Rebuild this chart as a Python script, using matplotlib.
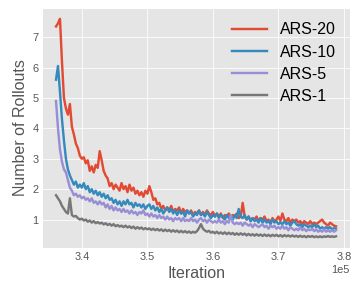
import numpy as np
import matplotlib
matplotlib.use("Agg")
import matplotlib.pyplot as plt

plt.style.use("ggplot")
plt.rcParams["font.family"] = ["Liberation Sans", "DejaVu Sans"]

# iteration grid (first to last logged iteration)
iters = np.linspace(336060, 378790, 142)

ars20 = [7.35, 7.45, 7.6, 6.2, 5.0, 4.65, 4.45, 4.8, 4.05, 3.8,
         3.5, 3.35, 3.1, 3.0, 3.05, 2.85, 2.95, 2.6, 2.75, 2.55,
         2.8, 2.7, 3.25, 2.95, 2.6, 2.45, 2.35, 2.1, 2.2, 2.0,
         2.15, 2.05, 1.95, 2.2, 2.0, 2.1, 1.9, 2.15, 1.95, 2.05,
         1.85, 1.95, 1.8, 1.9, 1.75, 1.95, 1.85, 2.1, 1.9, 1.65,
         1.7, 1.5, 1.55, 1.35, 1.45, 1.3, 1.4, 1.3, 1.45, 1.25,
         1.35, 1.3, 1.4, 1.2, 1.35, 1.25, 1.3, 1.2, 1.3, 1.15,
         1.25, 1.2, 1.3, 1.15, 1.25, 1.15, 1.3, 1.2, 1.15, 1.25,
         1.1, 1.2, 1.1, 1.2, 1.05, 1.15, 1.1, 1.2, 1.05, 1.15,
         1.1, 1.2, 1.05, 1.1, 1.55, 1.1, 1.0, 1.1, 0.95, 1.05,
         1.0, 1.1, 0.95, 1.05, 1.0, 1.1, 0.95, 1.0, 0.9, 1.05,
         0.95, 1.0, 1.1, 0.95, 1.2, 1.0, 0.95, 1.05, 0.9, 1.0,
         0.95, 1.0, 0.9, 0.95, 0.85, 0.95, 0.9, 0.85, 0.95, 0.85,
         0.9, 0.85, 0.9, 0.95, 1.0, 0.9, 0.85, 0.8, 0.9, 0.85,
         0.8, 0.78]

ars10 = [5.6, 6.05, 5.2, 4.3, 3.6, 3.0, 2.65, 2.45, 2.3, 2.15,
         2.25, 2.05, 2.15, 2.05, 2.2, 2.0, 2.1, 1.9, 2.0, 1.85,
         1.95, 1.8, 1.9, 1.75, 1.85, 1.7, 1.8, 1.65, 1.7, 1.55,
         1.65, 1.5, 1.6, 1.45, 1.6, 1.5, 1.65, 1.5, 1.55, 1.4,
         1.55, 1.45, 1.5, 1.4, 1.5, 1.35, 1.45, 1.5, 1.35, 1.45,
         1.3, 1.4, 1.25, 1.35, 1.2, 1.3, 1.4, 1.25, 1.35, 1.2,
         1.3, 1.15, 1.3, 1.2, 1.25, 1.1, 1.3, 1.2, 1.25, 1.1,
         1.2, 1.15, 1.3, 1.15, 1.2, 1.1, 1.25, 1.15, 1.05, 1.15,
         1.1, 1.2, 1.05, 1.15, 1.1, 1.0, 1.15, 1.05, 1.1, 1.0,
         1.15, 1.05, 1.35, 1.1, 1.05, 1.15, 1.0, 1.1, 0.95, 1.05,
         0.95, 1.0, 0.9, 1.05, 0.9, 1.0, 0.9, 0.95, 0.85, 1.0,
         0.9, 0.95, 0.85, 0.9, 0.85, 0.95, 0.85, 0.9, 0.8, 0.9,
         0.95, 0.85, 0.8, 0.85, 0.75, 0.85, 0.8, 0.75, 0.8, 0.75,
         0.85, 0.75, 0.8, 0.7, 0.75, 0.7, 0.75, 0.7, 0.75, 0.68,
         0.72, 0.7]

ars5 = [4.9, 4.0, 3.3, 2.9, 2.65, 2.55, 2.3, 2.05, 1.95, 1.8,
        1.85, 1.75, 1.8, 1.7, 1.75, 1.65, 1.7, 1.6, 1.7, 1.55,
        1.6, 1.5, 1.6, 1.5, 1.55, 1.4, 1.5, 1.35, 1.45, 1.3,
        1.4, 1.3, 1.35, 1.25, 1.35, 1.25, 1.3, 1.2, 1.3, 1.2,
        1.25, 1.15, 1.25, 1.2, 1.3, 1.15, 1.2, 1.1, 1.2, 1.1,
        1.15, 1.05, 1.15, 1.05, 1.1, 1.0, 1.1, 1.0, 1.05, 0.95,
        1.05, 1.0, 1.05, 0.95, 1.05, 0.95, 1.0, 0.95, 1.05, 0.95,
        1.0, 0.9, 1.0, 1.05, 0.95, 1.0, 0.9, 1.0, 0.95, 0.9,
        0.95, 0.9, 1.0, 0.9, 0.95, 0.85, 0.95, 0.9, 1.15, 0.9,
        0.85, 0.9, 0.85, 0.9, 0.8, 0.9, 0.85, 0.8, 0.85, 0.75,
        0.85, 0.8, 0.75, 0.8, 0.85, 0.75, 0.8, 0.7, 0.8, 0.75,
        0.8, 0.7, 0.75, 0.7, 0.8, 0.7, 0.75, 0.65, 0.75, 0.7,
        0.65, 0.7, 0.65, 0.75, 0.65, 0.7, 0.62, 0.68, 0.65, 0.7,
        0.62, 0.68, 0.6, 0.65, 0.6, 0.68, 0.6, 0.65, 0.6, 0.65,
        0.6, 0.65]

ars1 = [1.8, 1.7, 1.6, 1.45, 1.35, 1.25, 1.2, 1.7, 1.15, 1.1,
        1.12, 1.05, 1.0, 1.03, 0.97, 1.0, 0.93, 0.97, 0.9, 0.95,
        0.88, 0.92, 0.87, 0.9, 0.84, 0.88, 0.82, 0.86, 0.8, 0.85,
        0.78, 0.82, 0.77, 0.8, 0.75, 0.8, 0.74, 0.78, 0.72, 0.77,
        0.7, 0.75, 0.7, 0.74, 0.68, 0.72, 0.68, 0.71, 0.66, 0.7,
        0.65, 0.69, 0.64, 0.68, 0.62, 0.67, 0.62, 0.66, 0.6, 0.65,
        0.6, 0.64, 0.58, 0.63, 0.58, 0.62, 0.57, 0.61, 0.56, 0.6,
        0.57, 0.62, 0.72, 0.85, 0.7, 0.64, 0.6, 0.63, 0.57, 0.6,
        0.55, 0.6, 0.54, 0.58, 0.53, 0.58, 0.52, 0.57, 0.52, 0.56,
        0.5, 0.55, 0.5, 0.55, 0.5, 0.54, 0.48, 0.53, 0.48, 0.52,
        0.47, 0.52, 0.47, 0.51, 0.46, 0.51, 0.46, 0.5, 0.45, 0.5,
        0.46, 0.5, 0.45, 0.49, 0.44, 0.49, 0.45, 0.48, 0.44, 0.48,
        0.44, 0.47, 0.43, 0.47, 0.43, 0.46, 0.42, 0.46, 0.43, 0.46,
        0.42, 0.45, 0.42, 0.45, 0.42, 0.45, 0.43, 0.46, 0.43, 0.45,
        0.43, 0.45]

labels = ["ARS-20", "ARS-10", "ARS-5", "ARS-1"]
series = [ars20, ars10, ars5, ars1]

fig = plt.figure(figsize=(359 / 72, 294 / 72), dpi=72)
ax = fig.add_axes([0.117, 0.156, 0.858, 0.817])

for vals, lab in zip(series, labels):
    ax.plot(iters, vals, linewidth=2.4, label=lab)

ax.set_xlabel("Iteration", fontsize=16, color="#555555")
ax.set_ylabel("Number of Rollouts", fontsize=16, color="#555555")
ax.tick_params(labelsize=11, length=0)
ax.ticklabel_format(axis="x", style="sci", scilimits=(0, 0))
ax.xaxis.get_offset_text().set_fontsize(11)
ax.set_xticks([340000, 350000, 360000, 370000, 380000])
ax.set_yticks([1, 2, 3, 4, 5, 6, 7])

leg = ax.legend(loc="upper right", fontsize=16, frameon=False,
                labelspacing=0.45, handlelength=2.2)

fig.savefig("out.png", dpi=72)
